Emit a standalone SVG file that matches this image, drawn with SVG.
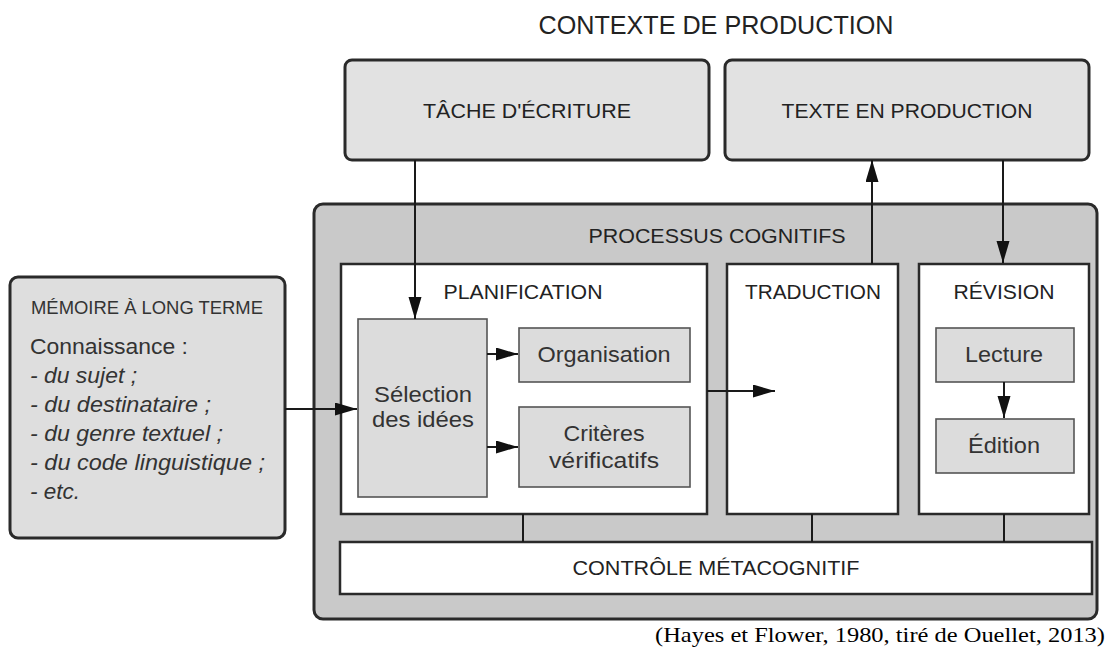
<svg xmlns="http://www.w3.org/2000/svg" width="1109" height="652" viewBox="0 0 1109 652">
<style>
.h{font-family:"Liberation Sans",Arial,sans-serif;fill:#222;text-anchor:middle}
.b{font-family:"Liberation Sans",Arial,sans-serif;fill:#333;text-anchor:middle}
.m{font-family:"Liberation Sans",Arial,sans-serif;fill:#333}
.top{fill:#e2e2e2;stroke:#2a2a2a;stroke-width:3}
.inner{fill:#fff;stroke:#2a2a2a;stroke-width:2.5}
.sub{fill:#dcdcdc;stroke:#555;stroke-width:1.6}
.c{fill:none;stroke:#1a1a1a;stroke-width:2}
</style>
<defs>
<marker id="ah" markerUnits="userSpaceOnUse" markerWidth="24" markerHeight="14" refX="22" refY="6.5" orient="auto">
<path d="M0,0 L22,6.5 L0,13 Z" fill="#111"/>
</marker>
</defs>
<rect width="1109" height="652" fill="#fff"/>
<text class="h" x="716" y="34" font-size="26" textLength="355" lengthAdjust="spacingAndGlyphs">CONTEXTE DE PRODUCTION</text>

<g id="tache"><rect class="top" x="345" y="60" width="364" height="100" rx="7"/>
<text class="h" x="527" y="118" font-size="21" textLength="208" lengthAdjust="spacingAndGlyphs">TÂCHE D'ÉCRITURE</text></g>
<g id="texte"><rect class="top" x="725" y="60" width="364" height="100" rx="7"/>
<text class="h" x="907" y="118" font-size="21" textLength="251" lengthAdjust="spacingAndGlyphs">TEXTE EN PRODUCTION</text></g>

<g id="processus"><rect x="314" y="204" width="783" height="415" rx="9" fill="#c9c9c9" stroke="#2a2a2a" stroke-width="3"/>
<text class="h" x="717" y="243" font-size="21" textLength="257" lengthAdjust="spacingAndGlyphs">PROCESSUS COGNITIFS</text></g>

<g id="memoire"><rect x="10" y="277" width="275" height="261" rx="8" fill="#dedede" stroke="#2a2a2a" stroke-width="3"/>
<text class="m" x="31" y="314" font-size="18" textLength="232" lengthAdjust="spacingAndGlyphs">MÉMOIRE À LONG TERME</text>
<text class="m" x="30" y="354" font-size="22" textLength="158" lengthAdjust="spacingAndGlyphs">Connaissance :</text>
<text class="m" x="30" y="383" font-size="22" font-style="italic" textLength="107" lengthAdjust="spacingAndGlyphs">- du sujet ;</text>
<text class="m" x="30" y="412" font-size="22" font-style="italic" textLength="181" lengthAdjust="spacingAndGlyphs">- du destinataire ;</text>
<text class="m" x="30" y="441" font-size="22" font-style="italic" textLength="193" lengthAdjust="spacingAndGlyphs">- du genre textuel ;</text>
<text class="m" x="30" y="470" font-size="22" font-style="italic" textLength="235" lengthAdjust="spacingAndGlyphs">- du code linguistique ;</text>
<text class="m" x="30" y="499" font-size="22" font-style="italic" textLength="50" lengthAdjust="spacingAndGlyphs">- etc.</text></g>

<g id="planification"><rect class="inner" x="341" y="264" width="366" height="250"/>
<text class="h" x="523" y="299" font-size="21" textLength="159" lengthAdjust="spacingAndGlyphs">PLANIFICATION</text></g>
<g id="selection"><rect class="sub" x="358" y="319" width="129" height="178"/>
<text class="b" x="423" y="402" font-size="22" textLength="98" lengthAdjust="spacingAndGlyphs">Sélection</text>
<text class="b" x="423" y="427" font-size="22" textLength="102" lengthAdjust="spacingAndGlyphs">des idées</text></g>
<g id="organisation"><rect class="sub" x="519" y="328" width="171" height="54"/>
<text class="b" x="604" y="362" font-size="22" textLength="133" lengthAdjust="spacingAndGlyphs">Organisation</text></g>
<g id="criteres"><rect class="sub" x="519" y="407" width="171" height="80"/>
<text class="b" x="604" y="441" font-size="22" textLength="81" lengthAdjust="spacingAndGlyphs">Critères</text>
<text class="b" x="604" y="468" font-size="22" textLength="110" lengthAdjust="spacingAndGlyphs">vérificatifs</text></g>

<g id="traduction"><rect class="inner" x="727" y="264" width="171" height="250"/>
<text class="h" x="813" y="299" font-size="21" textLength="136" lengthAdjust="spacingAndGlyphs">TRADUCTION</text></g>

<g id="revision"><rect class="inner" x="919" y="264" width="170" height="250"/>
<text class="h" x="1004" y="299" font-size="21" textLength="101" lengthAdjust="spacingAndGlyphs">RÉVISION</text></g>
<g id="lecture"><rect class="sub" x="936" y="328" width="138" height="54"/>
<text class="b" x="1004" y="362" font-size="22" textLength="78" lengthAdjust="spacingAndGlyphs">Lecture</text></g>
<g id="edition"><rect class="sub" x="936" y="419" width="138" height="54"/>
<text class="b" x="1004" y="453" font-size="22" textLength="72" lengthAdjust="spacingAndGlyphs">Édition</text></g>

<g id="controle"><rect class="inner" x="340" y="542" width="752" height="52"/>
<text class="h" x="716" y="575" font-size="20" textLength="287" lengthAdjust="spacingAndGlyphs">CONTRÔLE MÉTACOGNITIF</text></g>

<g id="connectors">
<path class="c" d="M415,160 V319" marker-end="url(#ah)"/>
<path class="c" d="M872,264 V160" marker-end="url(#ah)"/>
<path class="c" d="M1003,160 V263" marker-end="url(#ah)"/>
<path class="c" d="M285,409 H357" marker-end="url(#ah)"/>
<path class="c" d="M487,354 H518" marker-end="url(#ah)"/>
<path class="c" d="M487,447 H518" marker-end="url(#ah)"/>
<path class="c" d="M707,391 H775" marker-end="url(#ah)"/>
<path class="c" d="M1004,382 V418" marker-end="url(#ah)"/>
<path class="c" d="M523,514 V542 M812,514 V542 M1004,514 V542"/>
</g>

<text x="1105" y="642" font-family="'Liberation Serif','Times New Roman',serif" font-size="22" fill="#000" text-anchor="end" textLength="450" lengthAdjust="spacingAndGlyphs">(Hayes et Flower, 1980, tiré de Ouellet, 2013)</text>
</svg>
